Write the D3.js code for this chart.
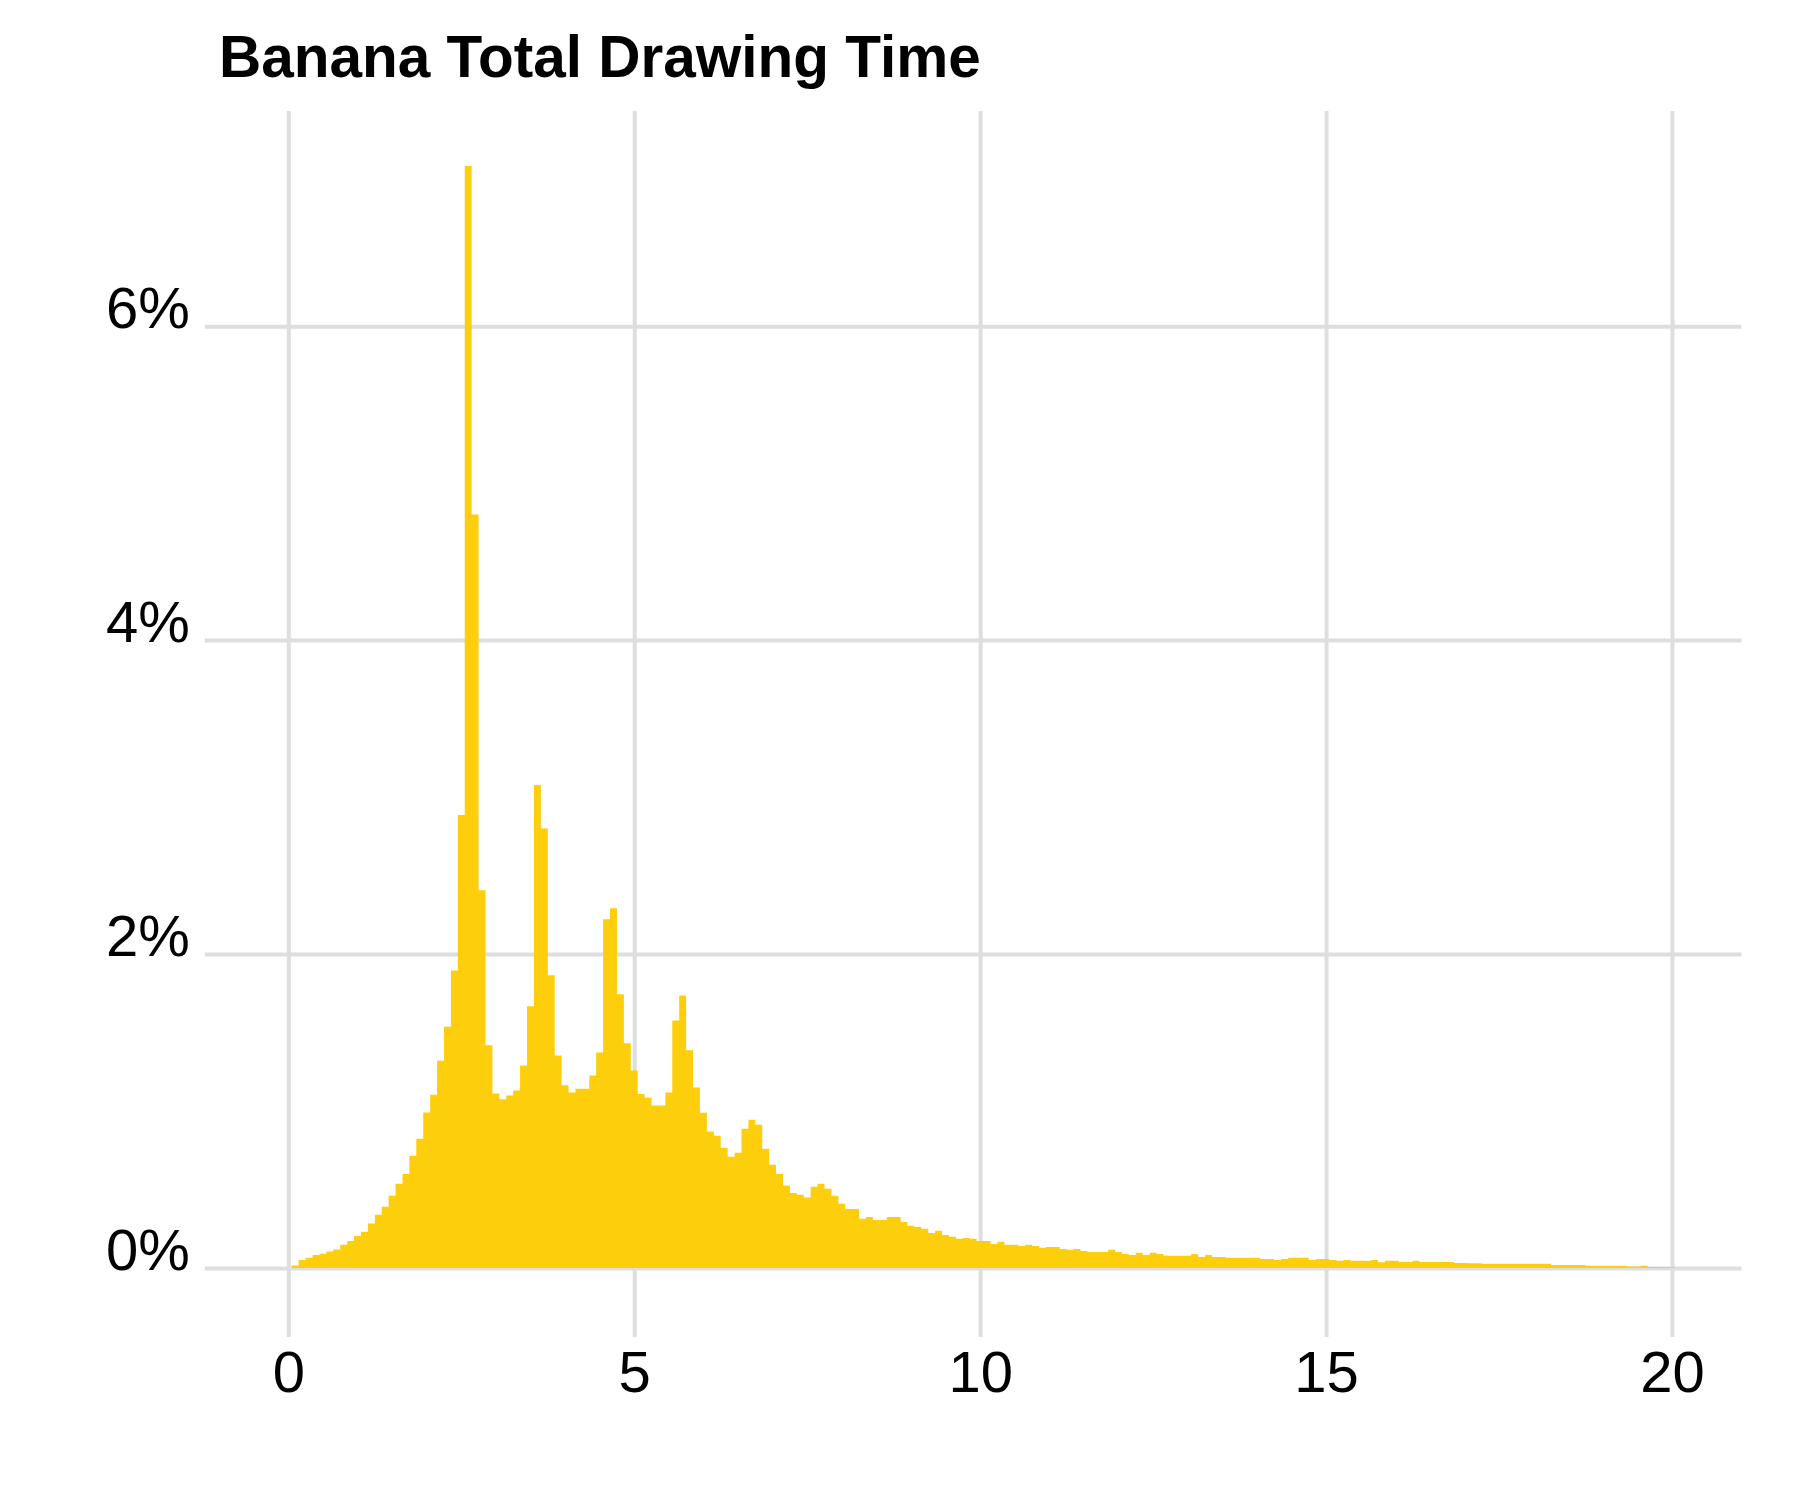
<!DOCTYPE html>
<html>
<head>
<meta charset="utf-8">
<title>Banana Total Drawing Time</title>
<script src="https://cdn.jsdelivr.net/npm/d3@7"></script>
<style>
    body { margin: 0; background: #fff; }
    svg { display: block; font-family: "Liberation Sans", Arial, sans-serif; }
</style>
</head>
<body>
<script>
// histogram bins: width 0.1, centred on 0.1, 0.2 ... 20.0
const binWidth = 0.1;
const binCenters = d3.range(1, 201).map(i => i / 10);

// share of drawings per bin, in %
const binPercent = [
    0.015, 0.051, 0.064, 0.083, 0.091, 0.104, 0.117, 0.147, 0.172, 0.204,
    0.230, 0.283, 0.338, 0.390, 0.459, 0.536, 0.599, 0.714, 0.823, 0.990,
    1.104, 1.320, 1.537, 1.895, 2.885, 7.020, 4.800, 2.406, 1.418, 1.112,
    1.074, 1.099, 1.131, 1.290, 1.667, 3.076, 2.800, 1.864, 1.354, 1.163,
    1.118, 1.141, 1.141, 1.226, 1.373, 2.221, 2.292, 1.743, 1.431, 1.258,
    1.108, 1.084, 1.035, 1.035, 1.118, 1.577, 1.735, 1.386, 1.150, 0.989,
    0.869, 0.842, 0.765, 0.708, 0.733, 0.886, 0.944, 0.912, 0.759, 0.657,
    0.599, 0.525, 0.478, 0.466, 0.449, 0.517, 0.536, 0.504, 0.459, 0.408,
    0.376, 0.376, 0.313, 0.325, 0.306, 0.306, 0.325, 0.325, 0.293, 0.268,
    0.261, 0.249, 0.223, 0.236, 0.210, 0.198, 0.185, 0.191, 0.185, 0.172,
    0.172, 0.153, 0.166, 0.147, 0.147, 0.140, 0.147, 0.140, 0.128, 0.134,
    0.134, 0.121, 0.115, 0.121, 0.108, 0.102, 0.102, 0.102, 0.115, 0.102,
    0.089, 0.083, 0.096, 0.083, 0.096, 0.089, 0.077, 0.077, 0.077, 0.077,
    0.089, 0.070, 0.083, 0.070, 0.070, 0.064, 0.064, 0.064, 0.064, 0.064,
    0.057, 0.057, 0.051, 0.057, 0.064, 0.064, 0.064, 0.051, 0.057, 0.057,
    0.051, 0.045, 0.051, 0.045, 0.045, 0.045, 0.051, 0.036, 0.045, 0.045,
    0.038, 0.038, 0.045, 0.038, 0.038, 0.038, 0.038, 0.038, 0.032, 0.032,
    0.030, 0.030, 0.026, 0.026, 0.026, 0.026, 0.026, 0.026, 0.026, 0.026,
    0.026, 0.026, 0.019, 0.019, 0.019, 0.019, 0.019, 0.013, 0.013, 0.013,
    0.013, 0.013, 0.013, 0.009, 0.009, 0.013, 0.006, 0.006, 0.006, 0.004
];

const xTicks = [0, 5, 10, 15, 20];
const yTicks = [0, 2, 4, 6];
const title = "Banana Total Drawing Time";

const width = 1800,
    height = 1500,
    panel = { left: 218.8, right: 1741.5, top: 111, bottom: 1323 },
    tickLen = 14,
    gridColor = "#dedede",
    barColor = "#fdce0c";

const bins = binCenters.map((c, i) => ({ x0: c - binWidth / 2, x1: c + binWidth / 2, value: binPercent[i] }));

const svg = d3.select("body")
    .append("svg")
    .attr("width", width)
    .attr("height", height);

svg.append("rect")
    .attr("width", width)
    .attr("height", height)
    .attr("fill", "#fff");

// x: 5% padding around -0.05 .. 20.05
const xScale = d3.scaleLinear()
    .domain([-1.005, 21.005])
    .range([panel.left, panel.right]);

// y: 5% padding around 0 .. max
const yMax = d3.max(binPercent);
const yScale = d3.scaleLinear()
    .domain([-0.05 * yMax, yMax * 1.05])
    .range([panel.bottom, panel.top]);

// gridlines + ticks (same grey), done through the axes
const yAxis = d3.axisLeft(yScale)
    .tickValues(yTicks)
    .tickSize(-(panel.right - panel.left + tickLen))
    .tickPadding(15)
    .tickFormat(d => d + "%");

const xAxis = d3.axisBottom(xScale)
    .tickValues(xTicks)
    .tickSize(-(panel.bottom - panel.top + tickLen))
    .tickPadding(14)
    .tickFormat(d3.format("d"));

const gy = svg.append("g")
    .attr("transform", "translate(" + (panel.left - tickLen) + ",0)")
    .call(yAxis);

const gx = svg.append("g")
    .attr("transform", "translate(0," + (panel.bottom + tickLen) + ")")
    .call(xAxis);

[gx, gy].forEach(g => {
    g.select(".domain").remove();
    g.selectAll(".tick line")
        .attr("stroke", gridColor)
        .attr("stroke-width", 4);
    g.selectAll(".tick text")
        .attr("fill", "#000")
        .style("font-size", "58px");
});

// y labels sit on top of their gridline
gy.selectAll(".tick text").attr("dy", "0.03em");

// bars as one stepped shape, so neighbouring bins leave no seams
const steps = [];
bins.forEach(d => {
    steps.push({ x: d.x0, v: d.value });
    steps.push({ x: d.x1, v: d.value });
});

const area = d3.area()
    .x(d => xScale(d.x))
    .y0(yScale(0))
    .y1(d => yScale(d.v));

svg.append("path")
    .datum(steps)
    .attr("d", area)
    .attr("fill", barColor);

// title
svg.append("text")
    .attr("x", 219)
    .attr("y", 77)
    .attr("fill", "#000")
    .style("font-size", "58.5px")
    .style("font-weight", "bold")
    .text(title);
</script>
</body>
</html>
